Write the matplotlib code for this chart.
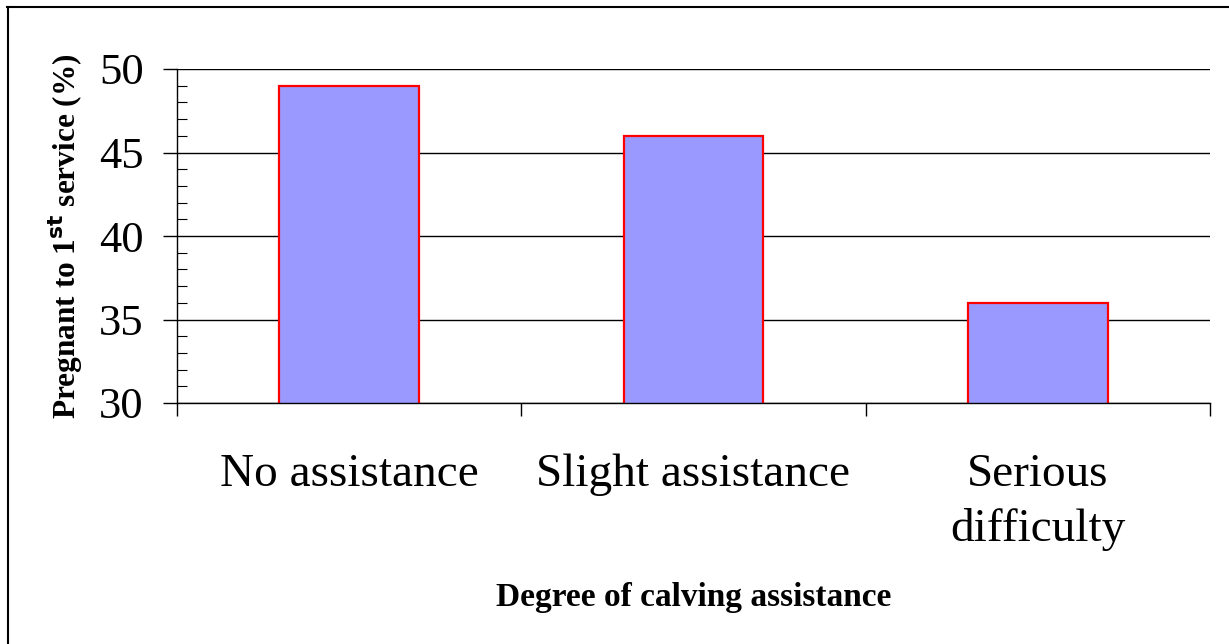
import matplotlib
matplotlib.use("Agg")
import matplotlib.pyplot as plt
from matplotlib.lines import Line2D
from matplotlib.ticker import MultipleLocator

categories = ["No assistance", "Slight assistance", "Serious\ndifficulty"]
pregnant_pct = [49, 46, 36]
y_ticks = [30, 35, 40, 45, 50]

plt.rcParams["font.family"] = ["Liberation Serif", "DejaVu Serif"]

fig = plt.figure(figsize=(12.29, 6.44), dpi=100)
ax = fig.add_axes([177 / 1229, 1 - 403 / 644, (1210 - 177) / 1229, (403 - 69) / 644])

x = list(range(len(categories)))
ax.bar(x, pregnant_pct, width=0.405, color="#9999FF", edgecolor="#FF0000",
       linewidth=1.6, zorder=3)

ax.set_xlim(-0.5, len(categories) - 0.5)
ax.set_ylim(30, 50)
ax.set_yticks(y_ticks)
ax.yaxis.set_minor_locator(MultipleLocator(1))
ax.tick_params(axis="y", which="major", direction="out", length=10, width=1,
               labelsize=32, pad=14)
ax.tick_params(axis="y", which="minor", direction="in", length=7, width=0.8)
ax.grid(axis="y", color="black", linewidth=1, zorder=0)

# category labels centred under each bar, tick marks at the boundaries
ax.set_xticks(x)
ax.set_xticklabels(categories, fontsize=34, linespacing=1.38)
ax.tick_params(axis="x", which="major", length=0, pad=36)
ax.set_xticks([-0.5, 0.5, 1.5, 2.5], minor=True)
ax.tick_params(axis="x", which="minor", direction="out", length=9, width=1)
for lbl in ax.get_xticklabels():
    lbl.set_verticalalignment("top")

for side in ["top", "right"]:
    ax.spines[side].set_visible(False)
ax.spines["left"].set_linewidth(1)
ax.spines["bottom"].set_linewidth(1)
ax.spines["bottom"].set_zorder(4)

ax.set_ylabel("Pregnant to 1$^{\\mathbf{st}}$ service (%)", fontsize=22.5,
              fontweight="bold", labelpad=10)
ax.set_xlabel("Degree of calving assistance", fontsize=24, fontweight="bold",
              labelpad=22)

# frame lines along top and left of the figure
fig.add_artist(Line2D([7 / 1229, 1], [1 - 6.5 / 644, 1 - 6.5 / 644],
                      color="black", linewidth=1.5, transform=fig.transFigure))
fig.add_artist(Line2D([7.5 / 1229, 7.5 / 1229], [0, 1 - 6.5 / 644],
                      color="black", linewidth=1.5, transform=fig.transFigure))

fig.savefig("out.png", dpi=100, facecolor="white")
